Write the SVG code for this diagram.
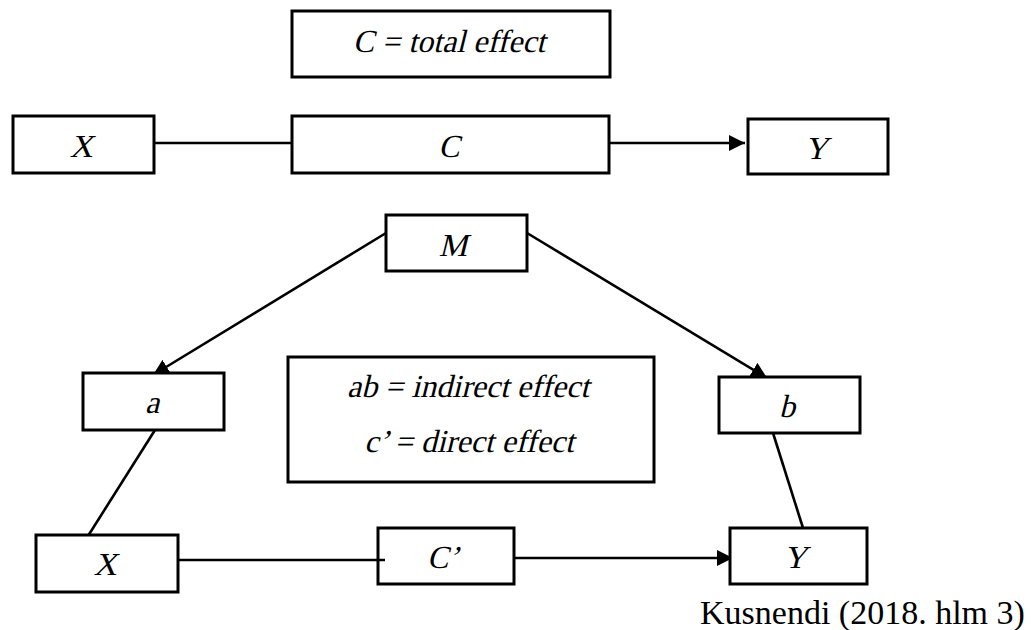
<svg xmlns="http://www.w3.org/2000/svg" width="1032" height="630" viewBox="0 0 1032 630">
<style>
  .box{fill:#fff;stroke:#000;stroke-width:3}
  .open{fill:none;stroke:#000;stroke-width:3}
  .ln{fill:none;stroke:#000;stroke-width:2.6}
  .t{font-family:"Liberation Serif","Times New Roman",serif;font-size:32px;fill:#000;text-anchor:middle}
  .src{font-family:"Liberation Serif","Times New Roman",serif;font-size:34px;fill:#000}
</style>
<defs>
  <marker id="ah" markerUnits="userSpaceOnUse" markerWidth="16" markerHeight="16" refX="16" refY="8" orient="auto">
    <path d="M0,0 L16,8 L0,16 Z" fill="#000"/>
  </marker>
</defs>
<rect width="1032" height="630" fill="#fff"/>
<g id="connectors">
  <line class="ln" x1="154" y1="143" x2="291" y2="143"/>
  <line class="ln" x1="609" y1="143" x2="745" y2="143" marker-end="url(#ah)"/>
  <line class="ln" x1="386" y1="233" x2="153" y2="375" marker-end="url(#ah)"/>
  <line class="ln" x1="527" y1="233" x2="767" y2="378" marker-end="url(#ah)"/>
  <line class="ln" x1="155" y1="430" x2="88" y2="536"/>
  <line class="ln" x1="773" y1="433" x2="803" y2="528"/>
  <line class="ln" x1="178" y1="560" x2="385" y2="560"/>
  <line class="ln" x1="514" y1="558" x2="733" y2="558" marker-end="url(#ah)"/>
</g>
<g id="total-effect">
  <rect class="box" x="292" y="11" width="318" height="66"/>
  <text class="t" transform="translate(449,52) skewX(-14)">C = total effect</text>
</g>
<g id="X-top">
  <rect class="box" x="13" y="116" width="141" height="57"/>
  <text class="t" transform="translate(81,157) skewX(-14)">X</text>
</g>
<g id="C-top">
  <rect class="box" x="292" y="116" width="317" height="57"/>
  <text class="t" transform="translate(449,157) skewX(-14)">C</text>
</g>
<g id="Y-top">
  <rect class="box" x="748" y="119" width="140" height="55"/>
  <text class="t" transform="translate(816,159) skewX(-14)">Y</text>
</g>
<g id="M">
  <rect class="box" x="386" y="215" width="141" height="56"/>
  <text class="t" transform="translate(453,256) skewX(-14)">M</text>
</g>
<g id="a">
  <rect class="box" x="83" y="373" width="141" height="57"/>
  <text class="t" transform="translate(152,413) skewX(-14)">a</text>
</g>
<g id="b">
  <rect class="box" x="719" y="377" width="141" height="56"/>
  <text class="t" transform="translate(787,417) skewX(-14)">b</text>
</g>
<g id="legend">
  <rect class="box" x="288" y="357" width="366" height="125"/>
  <text class="t" transform="translate(468,397) skewX(-14)">ab = indirect effect</text>
  <text class="t" transform="translate(469,452) skewX(-14)">c’ = direct effect</text>
</g>
<g id="X-bottom">
  <rect class="box" x="36" y="535" width="142" height="57"/>
  <text class="t" transform="translate(105,575) skewX(-14)">X</text>
</g>
<g id="C-prime">
  <rect class="open" x="378" y="528" width="136" height="56"/>
  <text class="t" transform="translate(443,568) skewX(-14)">C’</text>
</g>
<g id="Y-bottom">
  <rect class="box" x="730" y="528" width="137" height="56"/>
  <text class="t" transform="translate(795,568) skewX(-14)">Y</text>
</g>
<text class="src" x="700" y="624">Kusnendi (2018. hlm 3)</text>
</svg>
